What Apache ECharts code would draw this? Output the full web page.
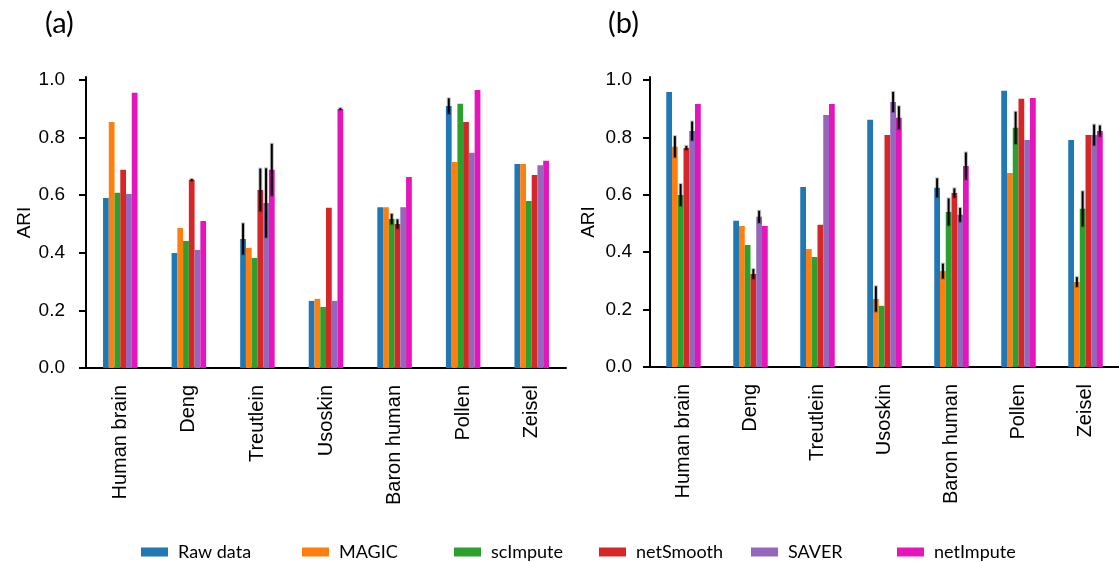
<!DOCTYPE html>
<html>
<head>
<meta charset="utf-8">
<script src="https://cdn.jsdelivr.net/npm/echarts@6/dist/echarts.min.js"></script>
<style>html,body{margin:0;padding:0;background:#fff}#chart{width:1119px;height:562px}</style>
</head>
<body>
<div id="chart"></div>
<script>
const categories = ['Human brain', 'Deng', 'Treutlein', 'Usoskin', 'Baron human', 'Pollen', 'Zeisel'];
const methods = ['Raw data', 'MAGIC', 'scImpute', 'netSmooth', 'SAVER', 'netImpute'];
const colors = ['#1f77b4', '#ff7f0e', '#2ca02c', '#d62728', '#9467bd', '#e614bc'];
const yTicks = [0, 0.2, 0.4, 0.6, 0.8, 1.0];

// Panel (a)
const rawA       = [0.590, 0.399, 0.448, 0.233, 0.558, 0.909, 0.708];
const magicA     = [0.854, 0.486, 0.417, 0.240, 0.558, 0.715, 0.708];
const scimputeA  = [0.608, 0.441, 0.382, 0.212, 0.517, 0.917, 0.580];
const netsmoothA = [0.688, 0.653, 0.618, 0.556, 0.500, 0.854, 0.670];
const saverA     = [0.604, 0.410, 0.573, 0.233, 0.558, 0.747, 0.704];
const netimputeA = [0.955, 0.510, 0.688, 0.899, 0.663, 0.965, 0.719];
const rawErrA       = [0, 0, 0.054, 0, 0, 0.027, 0];
const magicErrA     = [0, 0, 0, 0, 0, 0, 0];
const scimputeErrA  = [0, 0, 0, 0, 0.018, 0, 0];
const netsmoothErrA = [0, 0.003, 0.074, 0, 0.016, 0, 0];
const saverErrA     = [0, 0, 0.120, 0, 0, 0, 0];
const netimputeErrA = [0, 0, 0.090, 0.003, 0, 0, 0];

// Panel (b)
const rawB       = [0.958, 0.509, 0.627, 0.861, 0.624, 0.962, 0.791];
const magicB     = [0.767, 0.491, 0.411, 0.237, 0.334, 0.676, 0.296];
const scimputeB  = [0.599, 0.425, 0.383, 0.213, 0.540, 0.833, 0.551];
const netsmoothB = [0.763, 0.324, 0.495, 0.808, 0.606, 0.934, 0.808];
const saverB     = [0.822, 0.523, 0.878, 0.923, 0.530, 0.791, 0.808];
const netimputeB = [0.916, 0.491, 0.916, 0.868, 0.700, 0.937, 0.822];
const rawErrB       = [0, 0, 0, 0, 0.033, 0, 0];
const magicErrB     = [0.037, 0, 0, 0.044, 0.026, 0, 0.017];
const scimputeErrB  = [0.038, 0, 0, 0, 0.047, 0.056, 0.061];
const netsmoothErrB = [0.007, 0.017, 0, 0, 0.016, 0, 0];
const saverErrB     = [0.033, 0.021, 0, 0.035, 0.024, 0, 0.036];
const netimputeErrB = [0, 0, 0, 0.040, 0.047, 0, 0.019];

const valsA = [rawA, magicA, scimputeA, netsmoothA, saverA, netimputeA];
const errsA = [rawErrA, magicErrA, scimputeErrA, netsmoothErrA, saverErrA, netimputeErrA];
const valsB = [rawB, magicB, scimputeB, netsmoothB, saverB, netimputeB];
const errsB = [rawErrB, magicErrB, scimputeErrB, netsmoothErrB, saverErrB, netimputeErrB];

const BW = 5.75;
const tickFont = '"Liberation Sans", Arial, sans-serif';

function errRenderer(k) {
  return function (params, api) {
    const cat = api.value(0), v = api.value(1), e = api.value(2);
    if (!e) return;
    const top = api.coord([cat, v + e]);
    const bot = api.coord([cat, v - e]);
    const x = top[0] + (k - 2.5) * BW;
    return {
      type: 'group',
      children: [
        { type: 'line', shape: { x1: x, y1: top[1] - 1, x2: x, y2: bot[1] + 1 }, style: { stroke: 'rgba(0,0,0,0.25)', lineWidth: 4 } },
        { type: 'line', shape: { x1: x, y1: top[1], x2: x, y2: bot[1] }, style: { stroke: '#000', lineWidth: 2 } }
      ]
    };
  };
}

function xAxisFor(gi, margin) {
  return {
    type: 'category', gridIndex: gi, data: categories,
    axisLine: { lineStyle: { color: '#000', width: 2 } },
    axisTick: { alignWithLabel: true, length: 7, lineStyle: { color: '#000', width: 2 } },
    axisLabel: { rotate: 90, margin: margin, color: '#000', fontFamily: tickFont, fontSize: 20, interval: 0 }
  };
}
function yAxisFor(gi, margin, nameGap) {
  return {
    type: 'value', gridIndex: gi, min: 0, max: 1.01,
    name: 'ARI', nameLocation: 'middle', nameGap: nameGap, nameRotate: 90,
    nameTextStyle: { color: '#000', fontFamily: tickFont, fontSize: 19 },
    splitLine: { show: false },
    axisLine: { show: true, lineStyle: { color: '#000', width: 2 } },
    axisTick: { show: true, length: 7, customValues: yTicks, lineStyle: { color: '#000', width: 2 } },
    axisLabel: { margin: margin, customValues: yTicks, color: '#000', fontFamily: tickFont, fontSize: 19,
                 formatter: v => v.toFixed(1) }
  };
}

const series = [];
[[valsA, errsA], [valsB, errsB]].forEach(([vals, errs], gi) => {
  methods.forEach((m, k) => {
    series.push({
      type: 'bar', name: m, xAxisIndex: gi, yAxisIndex: gi, data: vals[k],
      barWidth: BW, barGap: '0%', itemStyle: { color: colors[k] }, animation: false
    });
  });
  methods.forEach((m, k) => {
    series.push({
      type: 'custom', name: 'err ' + m, xAxisIndex: gi, yAxisIndex: gi, z: 10, animation: false,
      renderItem: errRenderer(k), itemStyle: { color: '#000' },
      data: categories.map((c, j) => [j, vals[k][j], errs[k][j]])
    });
  });
});

const legendLefts = [141, 302, 454, 599, 751, 897];
const legends = methods.map((m, k) => ({
  left: legendLefts[k], top: 543, padding: 0, data: [m], icon: 'rect',
  itemWidth: 27, itemHeight: 9, itemGap: 0,
  textStyle: { fontFamily: 'Lato', fontSize: 18, color: '#000', padding: [0, 0, 0, 5] }
}));

const chart = echarts.init(document.getElementById('chart'), null, { renderer: 'canvas' });
chart.setOption({
  animation: false,
  title: [
    { text: '(a)', left: 45, top: 9, padding: 0, textStyle: { fontFamily: 'Lato', fontSize: 29, fontWeight: 'normal', color: '#000' } },
    { text: '(b)', left: 608, top: 9, padding: 0, textStyle: { fontFamily: 'Lato', fontSize: 29, fontWeight: 'normal', color: '#000' } }
  ],
  legend: legends,
  grid: [
    { left: 86, top: 77, width: 480, height: 291 },
    { left: 650, top: 77, width: 477, height: 290 }
  ],
  xAxis: [xAxisFor(0, 17), xAxisFor(1, 17)],
  yAxis: [yAxisFor(0, 21, 52), yAxisFor(1, 18, 52)],
  series: series
});
</script>
</body>
</html>
